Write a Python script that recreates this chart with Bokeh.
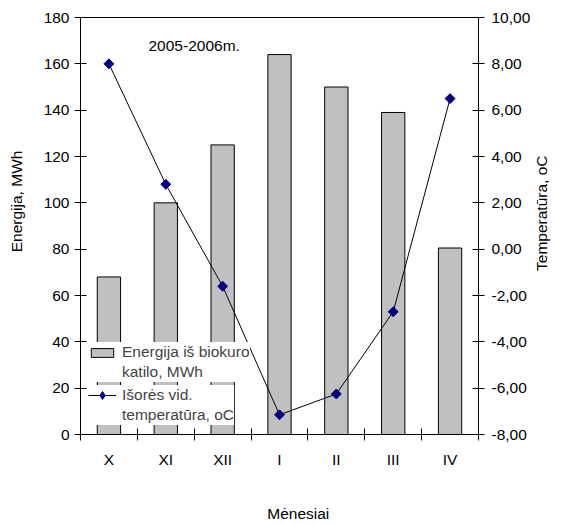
import math
from bokeh.plotting import figure
from bokeh.models import (Range1d, LinearAxis, FixedTicker, CustomJSTickFormatter,
                          Legend, LegendItem, Label, ColumnDataSource)
from bokeh.embed import file_html
from bokeh.resources import INLINE

months = ["X", "XI", "XII", "I", "II", "III", "IV"]
energy = [68, 100, 125, 164, 150, 139, 80.5]
temperature = [8.0, 2.8, -1.6, -7.15, -6.25, -2.7, 6.5]
title_text = "2005-2006m."
bar_label = ["Energija iš biokuro", "katilo, MWh"]
line_label = ["Išorės vid.", "temperatūra, oC"]
x_title = "Mėnesiai"
left_title = "Energija, MWh"
right_title = "Temperatūra, oC"

FONT = "Liberation Sans"
FS = "15.5px"

xpos = [i + 0.5 for i in range(len(months))]
src = ColumnDataSource(dict(x=xpos, energy=energy, temp=temperature))

p = figure(width=562, height=524, output_backend="svg", toolbar_location=None,
           x_range=Range1d(0, len(months)), y_range=Range1d(0, 180),
           min_border_left=80, min_border_right=84, min_border_top=17, min_border_bottom=90)
p.extra_y_ranges = {"temp": Range1d(-8, 10)}
p.xgrid.visible = False
p.ygrid.visible = False
p.outline_line_color = "black"
p.outline_line_width = 1
p.background_fill_color = "white"
p.border_fill_color = "white"

bars = p.vbar(x="x", top="energy", width=0.41, source=src,
              fill_color="#C0C0C0", line_color="black", line_width=1)
ln = p.line(x="x", y="temp", source=src, y_range_name="temp", line_color="black", line_width=1)
# diamond drawn beneath (used for the legend), rotated square on top
leg_pts = p.scatter(x="x", y="temp", source=src, y_range_name="temp", marker="diamond",
                    size=9, fill_color="#000080", line_color="#000080")
pts = p.scatter(x="x", y="temp", source=src, y_range_name="temp", marker="square",
                angle=math.pi / 4, size=7, fill_color="#000080", line_color="#000080")
# invisible placeholder for second lines of legend labels
blank = p.line(x=[], y=[], line_alpha=0)

# bottom axis
xa = p.xaxis[0]
xa.ticker = FixedTicker(ticks=xpos, minor_ticks=list(range(len(months) + 1)))
xa.major_label_overrides = {x: m for x, m in zip(xpos, months)}
xa.major_tick_in = 0
xa.major_tick_out = 6
xa.minor_tick_in = 6
xa.minor_tick_out = 6
xa.minor_tick_line_color = "black"
xa.major_label_standoff = 10

# left axis
ya = p.yaxis[0]
ya.ticker = FixedTicker(ticks=list(range(0, 181, 20)))
ya.major_tick_in = 6
ya.major_tick_out = 6
ya.minor_tick_line_color = None
ya.major_label_standoff = 5

# right axis
ra = LinearAxis(y_range_name="temp", ticker=FixedTicker(ticks=list(range(-8, 11, 2))),
                formatter=CustomJSTickFormatter(code="return tick.toFixed(2).replace('.', ',');"))
ra.major_tick_in = 6
ra.major_tick_out = 6
ra.minor_tick_line_color = None
ra.major_label_standoff = 7
p.add_layout(ra, "right")

# axis titles, each drawn as the single label of a bare outer axis
x_title_pos = 3.83
left_title_pos = 100.6
right_title_pos = -0.94
xt = LinearAxis(ticker=FixedTicker(ticks=[x_title_pos]),
                major_label_overrides={x_title_pos: x_title})
xt.major_label_standoff = 34
p.add_layout(xt, "below")

lt = LinearAxis(ticker=FixedTicker(ticks=[left_title_pos]),
                major_label_overrides={left_title_pos: left_title},
                major_label_orientation="parallel")
lt.major_label_standoff = 15
p.add_layout(lt, "left")

rt = LinearAxis(y_range_name="temp", ticker=FixedTicker(ticks=[right_title_pos]),
                major_label_overrides={right_title_pos: right_title},
                major_label_orientation=math.pi / 2)
rt.major_label_standoff = 8
p.add_layout(rt, "right")

for ax in [xt, lt, rt]:
    ax.axis_line_color = None
    ax.major_tick_line_color = None
    ax.minor_tick_line_color = None
    ax.major_tick_in = 0
    ax.major_tick_out = 0

for ax in [xa, ya, ra, xt, lt, rt]:
    ax.major_label_text_font = FONT
    ax.major_label_text_font_size = FS
    ax.major_label_text_color = "black"
for ax in [xa, ya, ra]:
    ax.axis_line_color = "black"
ya.major_tick_line_color = "black"
ra.major_tick_line_color = "black"
xa.major_tick_line_color = None

p.add_layout(Label(x=1.196, y=168, text=title_text, text_font=FONT, text_font_size=FS,
                   text_baseline="middle", text_color="black"))

common = dict(background_fill_color="white", background_fill_alpha=1, border_line_color=None,
              label_text_font=FONT, label_text_font_size=FS, glyph_width=28,
              label_standoff=6, padding=5, spacing=0, margin=0, label_height=20)
legend_line = Legend(items=[LegendItem(label=line_label[0], renderers=[ln, leg_pts]),
                            LegendItem(label=line_label[1], renderers=[blank])],
                     location=(8, 9), glyph_height=20, **common)
legend_bar = Legend(items=[LegendItem(label=bar_label[0], renderers=[bars]),
                           LegendItem(label=bar_label[1], renderers=[blank])],
                    location=(8, 52), glyph_height=11, **common)
p.add_layout(legend_line, "center")
p.add_layout(legend_bar, "center")

open("out.html", "w").write(file_html(p, INLINE))
